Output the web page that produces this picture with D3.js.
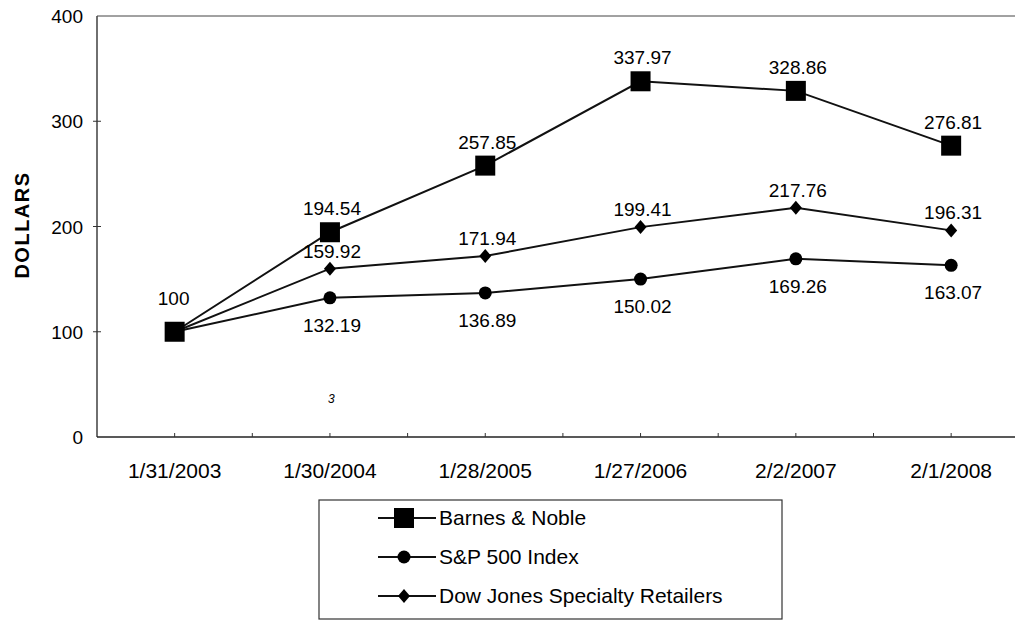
<!DOCTYPE html>
<html>
<head>
<meta charset="utf-8">
<script src="https://cdn.jsdelivr.net/npm/d3@7"></script>
<style>
	body { margin: 0; background: #fff; }
	svg { display: block; font-family: "Liberation Sans", Arial, sans-serif; }
</style>
</head>
<body>
<div id="chart"></div>
<script>
const dates = ["1/31/2003", "1/30/2004", "1/28/2005", "1/27/2006", "2/2/2007", "2/1/2008"];
const barnesNoble = [100, 194.54, 257.85, 337.97, 328.86, 276.81];
const sp500 = [100, 132.19, 136.89, 150.02, 169.26, 163.07];
const dowJones = [100, 159.92, 171.94, 199.41, 217.76, 196.31];
const yTicks = [0, 100, 200, 300, 400];

const width = 1017;
const height = 622;

const svg = d3
	.select("#chart")
	.append("svg")
	.attr("width", width)
	.attr("height", height);

const x = d3.scaleBand().domain(dates).range([97, 97 + 6 * 155.3]);
const y = d3.scaleLinear().domain([0, 400]).range([437, 16]);
const cx = (d) => x(d) + x.bandwidth() / 2;

// plot frame: left axis, bottom axis, top line
const frame = svg.append("g").attr("stroke", "#222").attr("stroke-width", 1.3);
frame.append("line").attr("x1", x.range()[0]).attr("x2", x.range()[0]).attr("y1", y(400)).attr("y2", y(0));
frame.append("line").attr("x1", x.range()[0]).attr("x2", 1015).attr("y1", y(0)).attr("y2", y(0));
frame.append("line").attr("x1", x.range()[0]).attr("x2", 1015).attr("y1", y(400)).attr("y2", y(400))
	.attr("stroke-width", 1).attr("stroke", "#444");

// y ticks (small crosses) + labels
const yAxis = svg.append("g");
yAxis.selectAll("line.tick")
	.data(yTicks.filter((d) => d > 0 && d < 400))
	.enter()
	.append("line")
	.attr("x1", x.range()[0] - 4)
	.attr("x2", x.range()[0] + 4)
	.attr("y1", (d) => y(d))
	.attr("y2", (d) => y(d))
	.attr("stroke", "#333");
yAxis.selectAll("text")
	.data(yTicks)
	.enter()
	.append("text")
	.attr("x", 83)
	.attr("y", (d) => y(d) + 7)
	.attr("text-anchor", "end")
	.attr("font-size", 19)
	.text((d) => d);

svg.append("text")
	.attr("transform", "translate(29,225) rotate(-90)")
	.attr("text-anchor", "middle")
	.attr("font-size", 20)
	.attr("font-weight", "bold")
	.attr("letter-spacing", 1.5)
	.text("DOLLARS");

// x ticks at band edges and centres
const xTickPos = [];
dates.forEach((d) => { xTickPos.push(x(d) + x.bandwidth()); xTickPos.push(cx(d)); });
svg.append("g").selectAll("line")
	.data(xTickPos)
	.enter()
	.append("line")
	.attr("x1", (d) => d).attr("x2", (d) => d)
	.attr("y1", y(0) - 4).attr("y2", y(0))
	.attr("stroke", "#333");

svg.append("g").selectAll("text")
	.data(dates)
	.enter()
	.append("text")
	.attr("x", (d) => cx(d))
	.attr("y", 478)
	.attr("text-anchor", "middle")
	.attr("font-size", 21)
	.text((d) => d);

const line = d3.line().x((d, i) => cx(dates[i])).y((d) => y(d));

const series = [
	{ name: "Barnes & Noble", values: barnesNoble, marker: "square", dy: -17 },
	{ name: "S&P 500 Index", values: sp500, marker: "circle", dy: 34 },
	{ name: "Dow Jones Specialty Retailers", values: dowJones, marker: "diamond", dy: -11 },
];

function drawMarker(g, type, px, py) {
	if (type === "square") {
		g.append("rect").attr("x", px - 10).attr("y", py - 10).attr("width", 20).attr("height", 20).attr("fill", "#000");
	} else if (type === "circle") {
		g.append("circle").attr("cx", px).attr("cy", py).attr("r", 6.5).attr("fill", "#000");
	} else {
		g.append("path")
			.attr("d", `M${px},${py - 7}L${px + 6},${py}L${px},${py + 7}L${px - 6},${py}Z`)
			.attr("fill", "#000");
	}
}

// lines first, then markers
series.forEach((s) => {
	svg.append("path")
		.datum(s.values)
		.attr("d", line)
		.attr("fill", "none")
		.attr("stroke", "#111")
		.attr("stroke-width", 2);
});
series.slice().reverse().forEach((s) => {
	const g = svg.append("g");
	s.values.forEach((v, i) => drawMarker(g, s.marker, cx(dates[i]), y(v)));
});

// value labels (first point shows a single "100")
series.forEach((s) => {
	svg.append("g").selectAll("text")
		.data(s.values.slice(1))
		.enter()
		.append("text")
		.attr("x", (d, i) => cx(dates[i + 1]) + 2)
		.attr("y", (d) => y(d) + s.dy)
		.attr("text-anchor", "middle")
		.attr("font-size", 19)
		.text((d) => d.toFixed(2));
});
svg.append("text")
	.attr("x", cx(dates[0]) - 1)
	.attr("y", y(barnesNoble[0]) - 27)
	.attr("text-anchor", "middle")
	.attr("font-size", 19)
	.text(barnesNoble[0]);

// scan artefact
svg.append("text")
	.attr("x", 328).attr("y", 403)
	.attr("font-size", 12).attr("font-style", "italic")
	.text("3");

// legend
const legend = svg.append("g");
legend.append("rect")
	.attr("x", 319).attr("y", 500).attr("width", 463).attr("height", 119)
	.attr("fill", "none").attr("stroke", "#333").attr("stroke-width", 1.2);
series.forEach((s, i) => {
	const ly = 518 + i * 39;
	const g = legend.append("g");
	g.append("line").attr("x1", 378).attr("x2", 436).attr("y1", ly).attr("y2", ly)
		.attr("stroke", "#111").attr("stroke-width", 2);
	drawMarker(g, s.marker, 404, ly);
	g.append("text").attr("x", 439).attr("y", ly + 7).attr("font-size", 21).text(s.name);
});
</script>
</body>
</html>
